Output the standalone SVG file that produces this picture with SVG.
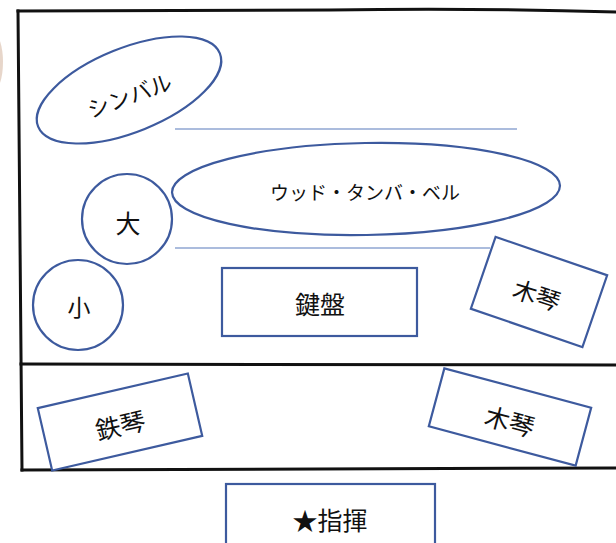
<svg xmlns="http://www.w3.org/2000/svg" width="616" height="543" viewBox="0 0 616 543">
<style>
.frame{fill:none;stroke:#111;stroke-width:3;stroke-linecap:square}
.shape{fill:#fff;stroke:#3d5a9e;stroke-width:2.2}
.guide{fill:none;stroke:#8fa6d2;stroke-width:1.5}
.lbl{font-family:"Noto Sans CJK JP","Noto Sans CJK SC",sans-serif;fill:#111;text-anchor:middle;dominant-baseline:central}
</style>
<rect width="616" height="543" fill="#fff"/>
<ellipse cx="-6" cy="62" rx="9" ry="28" fill="#c9a48a" opacity="0.45"/>
<g id="stage-frame">
<path class="frame" d="M18 11 L330 10 Q480 8 616 12"/>
<path class="frame" d="M18 11 L22 470"/>
<path class="frame" d="M21 364 L616 365"/>
<path class="frame" d="M22 470 L616 468"/>
</g>
<g id="connectors">
<line class="guide" x1="175" y1="129" x2="517" y2="129"/>
<line class="guide" x1="175" y1="248" x2="490" y2="248"/>
</g>
<g id="cymbal">
<ellipse class="shape" cx="129" cy="90" rx="98" ry="42" transform="rotate(-22 129 90)"/>
<text class="lbl" x="129" y="94" font-size="22" transform="rotate(-20 129 94)">シンバル</text>
</g>
<g id="wood-tambo-bell">
<ellipse class="shape" cx="366" cy="189" rx="194" ry="46" transform="rotate(-1 366 189)"/>
<text class="lbl" x="365" y="191" font-size="19">ウッド・タンバ・ベル</text>
</g>
<g id="dai">
<circle class="shape" cx="127" cy="219" r="45"/>
<text class="lbl" x="128" y="222" font-size="25">大</text>
</g>
<g id="sho">
<circle class="shape" cx="78" cy="305" r="45"/>
<text class="lbl" x="79" y="306" font-size="23">小</text>
</g>
<g id="kenban">
<rect class="shape" x="222" y="268" width="195" height="68"/>
<text class="lbl" x="320" y="303" font-size="25">鍵盤</text>
</g>
<g id="mokkin-upper">
<rect class="shape" x="-59" y="-38" width="118" height="76" transform="translate(539 292) rotate(19)"/>
<text class="lbl" x="0" y="0" font-size="24" transform="translate(537 294) rotate(18)">木琴</text>
</g>
<g id="tekkin">
<rect class="shape" x="-77" y="-32" width="154" height="64" transform="translate(120 422) rotate(-13)"/>
<text class="lbl" x="0" y="0" font-size="25" transform="translate(120 424) rotate(-13)">鉄琴</text>
</g>
<g id="mokkin-lower">
<rect class="shape" x="-76" y="-30" width="152" height="60" transform="translate(510 417) rotate(15)"/>
<text class="lbl" x="0" y="0" font-size="25" transform="translate(510 420) rotate(15)">木琴</text>
</g>
<g id="conductor">
<rect class="shape" x="226" y="484" width="209" height="70"/>
<text class="lbl" x="330" y="519" font-size="25">★指揮</text>
</g>
</svg>
